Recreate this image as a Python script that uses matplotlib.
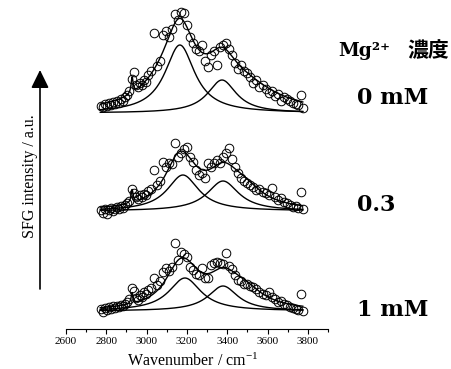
import numpy as np
import matplotlib
matplotlib.use("Agg")
import matplotlib.pyplot as plt
from matplotlib.patches import ArrowStyle

plt.rcParams['font.family'] = ['Liberation Serif', 'DejaVu Serif', 'Noto Sans CJK JP']
plt.rcParams['mathtext.fontset'] = 'custom'
plt.rcParams['mathtext.rm'] = 'Liberation Serif'
plt.rcParams['mathtext.it'] = 'Liberation Serif:italic'

# ---- measured points (wavenumber, cm-1) ----
wavenumber = [
    2775, 2785, 2795, 2805, 2815, 2825, 2835, 2845,
    2855, 2865, 2875, 2885, 2895, 2905, 2915, 2925,
    2935, 2945, 2955, 2965, 2975, 2985, 2995, 3005,
    3020, 3035, 3050, 3065, 3080, 3095, 3110, 3125,
    3140, 3155, 3170, 3185, 3200, 3215, 3230, 3245,
    3260, 3275, 3290, 3305, 3320, 3335, 3350, 3365,
    3380, 3395, 3410, 3425, 3440, 3455, 3470, 3485,
    3500, 3515, 3530, 3545, 3560, 3575, 3590, 3605,
    3620, 3635, 3650, 3665, 3680, 3695, 3710, 3725,
    3740, 3750, 3765, 3775]

sfg_0mM = [
    7, 6, 9, 7, 10, 8, 11, 9,
    12, 10, 14, 12, 16, 18, 22, 34,
    41, 28, 26, 30, 28, 33, 31, 38,
    42, 80, 47, 52, 78, 82, 76, 84,
    99, 93, 101, 100, 88, 76, 70, 64,
    62, 68, 52, 46, 58, 62, 48, 66,
    68, 70, 64, 58, 50, 44, 48, 42,
    40, 36, 30, 33, 26, 28, 24, 20,
    22, 17, 19, 12, 16, 14, 12, 10,
    9, 8, 18, 5]

sfg_03mM = [
    1, -2, 2, -3, 1, 3, 0, 2,
    4, 2, 5, 3, 6, 8, 10, 22,
    18, 14, 12, 16, 14, 17, 16, 20,
    22, 41, 26, 30, 49, 44, 48, 47,
    68, 54, 58, 62, 64, 54, 49, 41,
    36, 38, 33, 48, 44, 48, 51, 48,
    54, 58, 63, 52, 44, 38, 33, 30,
    28, 26, 24, 21, 22, 19, 18, 16,
    23, 14, 11, 13, 9, 8, 6, 4,
    5, 3, 19, 2]

sfg_1mM = [
    2, -1, 3, 1, 4, 2, 5, 3,
    5, 4, 6, 5, 7, 9, 12, 23,
    20, 13, 11, 16, 14, 19, 17, 21,
    23, 33, 26, 30, 39, 43, 40, 44,
    68, 51, 59, 57, 54, 44, 41, 37,
    36, 43, 33, 33, 46, 48, 49, 48,
    47, 58, 45, 42, 36, 31, 30, 27,
    27, 25, 24, 22, 19, 17, 16, 19,
    14, 12, 9, 10, 7, 6, 4, 3,
    2, 1, 17, 0]

spectra = [sfg_0mM, sfg_03mM, sfg_1mM]
offsets = [198, 100, 0]

# ---- fitted Lorentzian parameters (two displayed bands per spectrum) ----
band_center = [[3165, 3374], [3180, 3379], [3190, 3379]]
band_gamma = [[90, 87], [95, 95], [97, 90]]
band_height = [[68, 33], [36, 30], [33, 25]]
# additional terms of the total fit (not drawn separately)
extra_center = [[3100, 3480], [3150, 3480], [3150, 3480]]
extra_gamma = [[150, 200], [80, 120], [80, 120]]
extra_height = [[18, 23], [18, 17], [16, 17]]
narrow_center = 2928
narrow_gamma = 6
narrow_height = [16, 13, 11]

fit_range = (2770, 3775)

conc_labels = ['0 mM', '0.3', '1 mM']
xticks = [2600, 2800, 3000, 3200, 3400, 3600, 3800]


def lor(w, c, g, h):
    return h * g ** 2 / ((w - c) ** 2 + g ** 2)


fig = plt.figure(figsize=(4.52, 3.69), dpi=100)
ax = fig.add_axes([66 / 452, 40 / 369, 262 / 452, 329 / 369])
ax.set_xlim(2600, 3900)
ax.set_ylim(-18, 311)

w = np.linspace(fit_range[0], fit_range[1], 1006)
for i, (ys, off) in enumerate(zip(spectra, offsets)):
    comps = [lor(w, c, g, h) for c, g, h in zip(band_center[i], band_gamma[i], band_height[i])]
    extras = [lor(w, c, g, h) for c, g, h in zip(extra_center[i], extra_gamma[i], extra_height[i])]
    total = sum(comps) + sum(extras) + lor(w, narrow_center, narrow_gamma, narrow_height[i])
    for c in comps:
        ax.plot(w, c + off, color='black', lw=1.0)
    ax.plot(w, total + off, color='black', lw=1.0)
    ax.plot(wavenumber, np.array(ys) + off, 'o', ms=6.2, mfc='none', mec='black', mew=0.7)

for s in ['top', 'left', 'right']:
    ax.spines[s].set_visible(False)
ax.spines['bottom'].set_linewidth(0.8)
ax.set_yticks([])
ax.set_xticks(xticks)
ax.set_xticks(np.arange(2700, 3901, 200), minor=True)
ax.tick_params(axis='x', which='major', direction='out', length=3.5, width=0.8, labelsize=8, pad=2)
ax.tick_params(axis='x', which='minor', direction='out', length=2, width=0.8)
ax.set_xlabel('Wavenumber / cm$^{-1}$', fontsize=11.5, va='center')
ax.xaxis.set_label_coords((193 - 66) / 262, (329 - 361) / 329)

# y-axis label and arrow
fig.text(30 / 452, 1 - 176 / 369, 'SFG intensity / a.u.', rotation=90,
         ha='center', va='center', fontsize=11.5)
ax.annotate('', xy=(40 / 452, 1 - 70 / 369), xytext=(40 / 452, 1 - 289 / 369),
            xycoords='figure fraction', textcoords='figure fraction',
            arrowprops=dict(arrowstyle=ArrowStyle('-|>', head_length=0.55, head_width=0.27),
                            mutation_scale=20, color='black', lw=1.2, shrinkA=0, shrinkB=0))

# right-hand labels
fig.text(338 / 452, 1 - 51 / 369, 'Mg²⁺', ha='left', va='center', fontsize=13.5,
         fontweight='bold', family=['DejaVu Serif', 'Noto Sans CJK JP'])
fig.text(449 / 452, 1 - 51 / 369, '濃度', ha='right', va='center', fontsize=15,
         family=['Noto Sans CJK JP'], fontweight='bold')
for lab, yp in zip(conc_labels, [98, 205, 310]):
    fig.text(357 / 452, 1 - yp / 369, lab, ha='left', va='center', fontsize=16,
             fontweight='bold', family=['DejaVu Serif'])

fig.savefig('out.png', dpi=100)
